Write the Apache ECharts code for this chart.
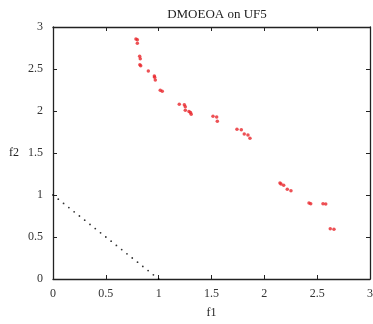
<!DOCTYPE html>
<html><head><meta charset="utf-8">
<script src="https://cdn.jsdelivr.net/npm/echarts@6/dist/echarts.min.js"></script>
<style>html,body{margin:0;padding:0;background:#fff}#c{width:373px;height:324px}</style>
</head><body><div id="c"></div>
<script>
const titleText = 'DMOEOA on UF5';
const xTicks = [0, 0.5, 1, 1.5, 2, 2.5, 3];
const yTicks = [0, 0.5, 1, 1.5, 2, 2.5, 3];
const obtainedF1 = [0.785,0.798,0.798,0.820,0.826,0.822,0.830,0.902,0.959,0.962,0.968,1.015,1.034,1.195,1.243,1.252,1.252,1.287,1.301,1.308,1.514,1.549,1.555,1.741,1.782,1.810,1.845,1.864,2.148,2.158,2.183,2.217,2.252,2.423,2.439,2.555,2.581,2.624,2.659];
const obtainedF2 = [2.857,2.849,2.806,2.651,2.623,2.550,2.540,2.476,2.417,2.401,2.369,2.246,2.235,2.080,2.075,2.051,2.008,1.994,1.982,1.962,1.938,1.929,1.879,1.782,1.777,1.726,1.714,1.675,1.143,1.131,1.115,1.068,1.051,0.905,0.896,0.896,0.893,0.599,0.592];
const trueF1 = [0,0.05,0.1,0.15,0.2,0.25,0.3,0.35,0.4,0.45,0.5,0.55,0.6,0.65,0.7,0.75,0.8,0.85,0.9,0.95,1];
const trueF2 = [1,0.95,0.9,0.85,0.8,0.75,0.7,0.65,0.6,0.55,0.5,0.45,0.4,0.35,0.3,0.25,0.2,0.15,0.1,0.05,0];

const font = 'Liberation Serif';
const axisLine = {show:true, onZero:false, lineStyle:{color:'#222', width:1.3}};
const tick = {show:true, inside:true, length:4, lineStyle:{color:'#222', width:1}};
const lbl = {fontFamily:font, fontSize:12, color:'#333'};
function ax(pos, main, name, ticks) {
  return {
    type:'value', position:pos, min:ticks[0], max:ticks[ticks.length-1], interval:0.5,
    axisLine, axisTick:tick, splitLine:{show:false},
    axisLabel: main ? Object.assign({show:true, margin:(pos==='bottom'?9:10)}, lbl) : {show:false},
    name: main ? name : '', nameLocation:'middle', nameRotate:0,
    nameGap: pos==='bottom'?28:34,
    nameTextStyle:{fontFamily:font, fontSize:12, color:'#222'}
  };
}
const chart = echarts.init(document.getElementById('c'), null, {renderer:'canvas'});
chart.setOption({
  animation:false,
  title:{text:titleText, left:212, top:3, textAlign:'center',
    textStyle:{fontFamily:font, fontSize:13, fontWeight:'normal', color:'#222'}},
  grid:{left:53, right:3, top:27, bottom:45, outerBoundsMode:'none', containLabel:false},
  xAxis:[ax('bottom', true, 'f1', xTicks), ax('top', false, '', xTicks)],
  yAxis:[ax('left', true, 'f2', yTicks), ax('right', false, '', yTicks)],
  series:[
    {type:'scatter', data:trueF1.map((v,i)=>[v,trueF2[i]]), symbol:'circle', symbolSize:1.8,
     itemStyle:{color:'#000'}, silent:true},
    {type:'scatter', data:obtainedF1.map((v,i)=>[v,obtainedF2[i]]), symbol:'circle', symbolSize:3.5,
     itemStyle:{color:'#e8262a'}, silent:true}
  ]
});
</script></body></html>
